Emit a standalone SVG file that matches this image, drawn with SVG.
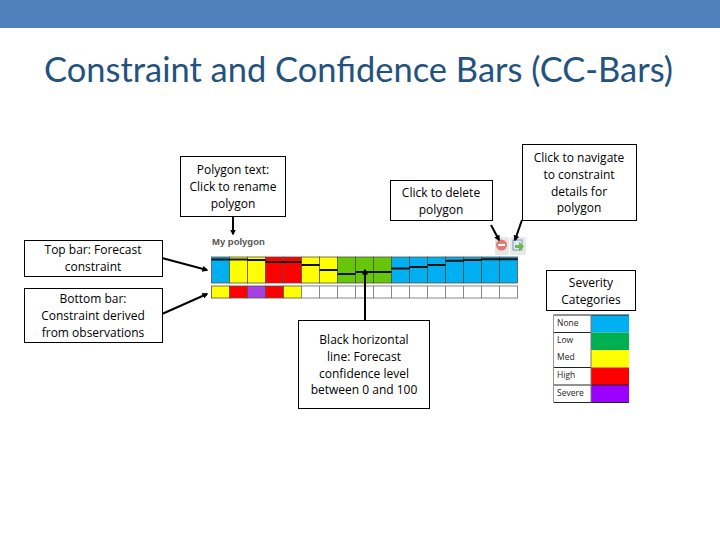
<svg xmlns="http://www.w3.org/2000/svg" width="720" height="540" viewBox="0 0 720 540">
<style>
.box{fill:#fff;stroke:#000;stroke-width:1}
.t{font-family:"Open Sans","DejaVu Sans",sans-serif;font-size:12px;font-weight:500;fill:#000;text-anchor:middle}
.c{stroke:#000;stroke-width:2;fill:none;marker-end:url(#a)}
.cell{stroke:#55524a;stroke-width:.8}
.w{fill:#fff;stroke:#888;stroke-width:1}
.lv{stroke:#111;stroke-width:2;fill:none}
.lg{font-family:"Open Sans","DejaVu Sans",sans-serif;font-size:8.5px;font-weight:500;fill:#222}
.b{fill:#00b0f0}.y{fill:#ffff00}.r{fill:#ff0000}.g{fill:#66c60a}.p{fill:#a640e0}
</style>
<defs>
<marker id="a" markerWidth="6" markerHeight="6" refX="4.500" refY="3" orient="auto" markerUnits="userSpaceOnUse"><path d="M0,0L6,3L0,6Z" fill="#000"/></marker>
</defs>
<rect x="0" y="0" width="720" height="28" fill="#4f81bd"/>
<text x="44" y="82" textLength="629" lengthAdjust="spacingAndGlyphs" font-family="Lato,'Open Sans',sans-serif" font-size="35" fill="#24527f">Constraint and Confidence Bars (CC-Bars)</text>

<g id="polygon-bars">
<text x="212" y="245" font-family="'Liberation Sans',sans-serif" font-size="9.500" font-weight="bold" fill="#555">My polygon</text>
<g id="top-bar">
<rect class="cell b" x="211.500" y="257" width="18" height="26"/>
<rect class="cell y" x="229.500" y="257" width="18" height="26"/>
<rect class="cell y" x="247.500" y="257" width="18" height="26"/>
<rect class="cell r" x="265.500" y="257" width="18" height="26"/>
<rect class="cell r" x="283.500" y="257" width="18" height="26"/>
<rect class="cell y" x="301.500" y="257" width="18" height="26"/>
<rect class="cell y" x="319.500" y="257" width="18" height="26"/>
<rect class="cell g" x="337.500" y="257" width="18" height="26"/>
<rect class="cell g" x="355.500" y="257" width="18" height="26"/>
<rect class="cell g" x="373.500" y="257" width="18" height="26"/>
<rect class="cell b" x="391.500" y="257" width="18" height="26"/>
<rect class="cell b" x="409.500" y="257" width="18" height="26"/>
<rect class="cell b" x="427.500" y="257" width="18" height="26"/>
<rect class="cell b" x="445.500" y="257" width="18" height="26"/>
<rect class="cell b" x="463.500" y="257" width="18" height="26"/>
<rect class="cell b" x="481.500" y="257" width="18" height="26"/>
<rect class="cell b" x="499.500" y="257" width="18" height="26"/>
<path class="lv" d="M211.500,259.500h18M229.500,259.500h18M247.500,260h18M265.500,262h18M283.500,262h18M301.500,265h18M319.500,270h18M337.500,274h18M355.500,272h18M373.500,272h18M391.500,268.500h18M409.500,267h18M427.500,265h18M445.500,260.700h18M463.500,260h18M481.500,259.300h18M499.500,259.300h18"/>
</g>
<g id="bottom-bar">
<rect class="cell y" x="211.500" y="286" width="18" height="12"/>
<rect class="cell r" x="229.500" y="286" width="18" height="12"/>
<rect class="cell p" x="247.500" y="286" width="18" height="12"/>
<rect class="cell r" x="265.500" y="286" width="18" height="12"/>
<rect class="cell y" x="283.500" y="286" width="18" height="12"/>
<rect class="w" x="301.500" y="286" width="18" height="12"/>
<rect class="w" x="319.500" y="286" width="18" height="12"/>
<rect class="w" x="337.500" y="286" width="18" height="12"/>
<rect class="w" x="355.500" y="286" width="18" height="12"/>
<rect class="w" x="373.500" y="286" width="18" height="12"/>
<rect class="w" x="391.500" y="286" width="18" height="12"/>
<rect class="w" x="409.500" y="286" width="18" height="12"/>
<rect class="w" x="427.500" y="286" width="18" height="12"/>
<rect class="w" x="445.500" y="286" width="18" height="12"/>
<rect class="w" x="463.500" y="286" width="18" height="12"/>
<rect class="w" x="481.500" y="286" width="18" height="12"/>
<rect class="w" x="499.500" y="286" width="18" height="12"/>
</g>
<g id="delete-icon">
<rect x="495" y="237" width="14" height="18" rx="2" fill="#e6e6e6"/>
<circle cx="501.500" cy="245" r="5.500" fill="#e47a72"/>
<rect x="498" y="244" width="7" height="2" fill="#fff"/>
</g>
<g id="navigate-icon">
<rect x="510" y="237" width="16" height="18" rx="2" fill="#e8e8e8"/>
<rect x="513" y="240" width="9" height="10" fill="#dfeaf7" stroke="#7a96bc" stroke-width="1"/>
<path d="M515,245h4v-3l5,4.500l-5,4.500v-3h-4Z" fill="#6cb84a"/>
</g>
</g>

<g id="connectors">
<path class="c" d="M233,217V234"/>
<path class="c" d="M162,258L207,270"/>
<path class="c" d="M162,314L207,294"/>
<path class="c" d="M491,225L499,240"/>
<path class="c" d="M522,220L515,240"/>
<path class="c" d="M365,320V270"/>
</g>

<g id="n-polygon-text"><rect class="box" x="180.500" y="156.500" width="105" height="60"/>
<text class="t"><tspan x="233" y="174">Polygon text:</tspan><tspan x="233" y="191">Click to rename</tspan><tspan x="233" y="208">polygon</tspan></text></g>
<g id="n-delete"><rect class="box" x="390.500" y="180.500" width="102" height="40"/>
<text class="t"><tspan x="441" y="197">Click to delete</tspan><tspan x="441" y="214">polygon</tspan></text></g>
<g id="n-navigate"><rect class="box" x="522.500" y="144.500" width="114" height="76"/>
<text class="t"><tspan x="579" y="162">Click to navigate</tspan><tspan x="579" y="179">to constraint</tspan><tspan x="579" y="196">details for</tspan><tspan x="579" y="212">polygon</tspan></text></g>
<g id="n-top-bar"><rect class="box" x="24.500" y="240.500" width="138" height="36"/>
<text class="t"><tspan x="93" y="254">Top bar: Forecast</tspan><tspan x="93" y="271">constraint</tspan></text></g>
<g id="n-bottom-bar"><rect class="box" x="24.500" y="288.500" width="138" height="54"/>
<text class="t"><tspan x="93" y="303">Bottom bar:</tspan><tspan x="93" y="320">Constraint derived</tspan><tspan x="93" y="337">from observations</tspan></text></g>
<g id="n-black-line"><rect class="box" x="298.500" y="320.500" width="131" height="88"/>
<text class="t"><tspan x="364" y="344">Black horizontal</tspan><tspan x="364" y="361">line: Forecast</tspan><tspan x="364" y="378">confidence level</tspan><tspan x="364" y="394">between 0 and 100</tspan></text></g>
<g id="n-severity"><rect class="box" x="546.500" y="270.500" width="89" height="40"/>
<text class="t"><tspan x="591" y="287">Severity</tspan><tspan x="591" y="304">Categories</tspan></text></g>

<g id="legend">
<rect class="b" x="591" y="315" width="38" height="17.500"/>
<rect x="591" y="332.500" width="38" height="17.500" fill="#00b050"/>
<rect class="y" x="591" y="350" width="38" height="17.500"/>
<rect class="r" x="591" y="367.500" width="38" height="17.500"/>
<rect x="591" y="385" width="38" height="17.500" fill="#9900ff"/>
<path d="M553.500,315H629M553.500,332.500H591M553.500,367.500H591M553.500,385H629M553.500,402.500H629" stroke="#222" stroke-width="1" fill="none"/>
<path d="M591,315V402.500" stroke="#777" stroke-width="1" fill="none"/>
<path d="M553.500,315V402.500" stroke="#999" stroke-width="1" fill="none"/>
<text class="lg" x="557" y="326">None</text>
<text class="lg" x="557" y="343">Low</text>
<text class="lg" x="557" y="360">Med</text>
<text class="lg" x="557" y="378">High</text>
<text class="lg" x="557" y="396">Severe</text>
</g>
</svg>
